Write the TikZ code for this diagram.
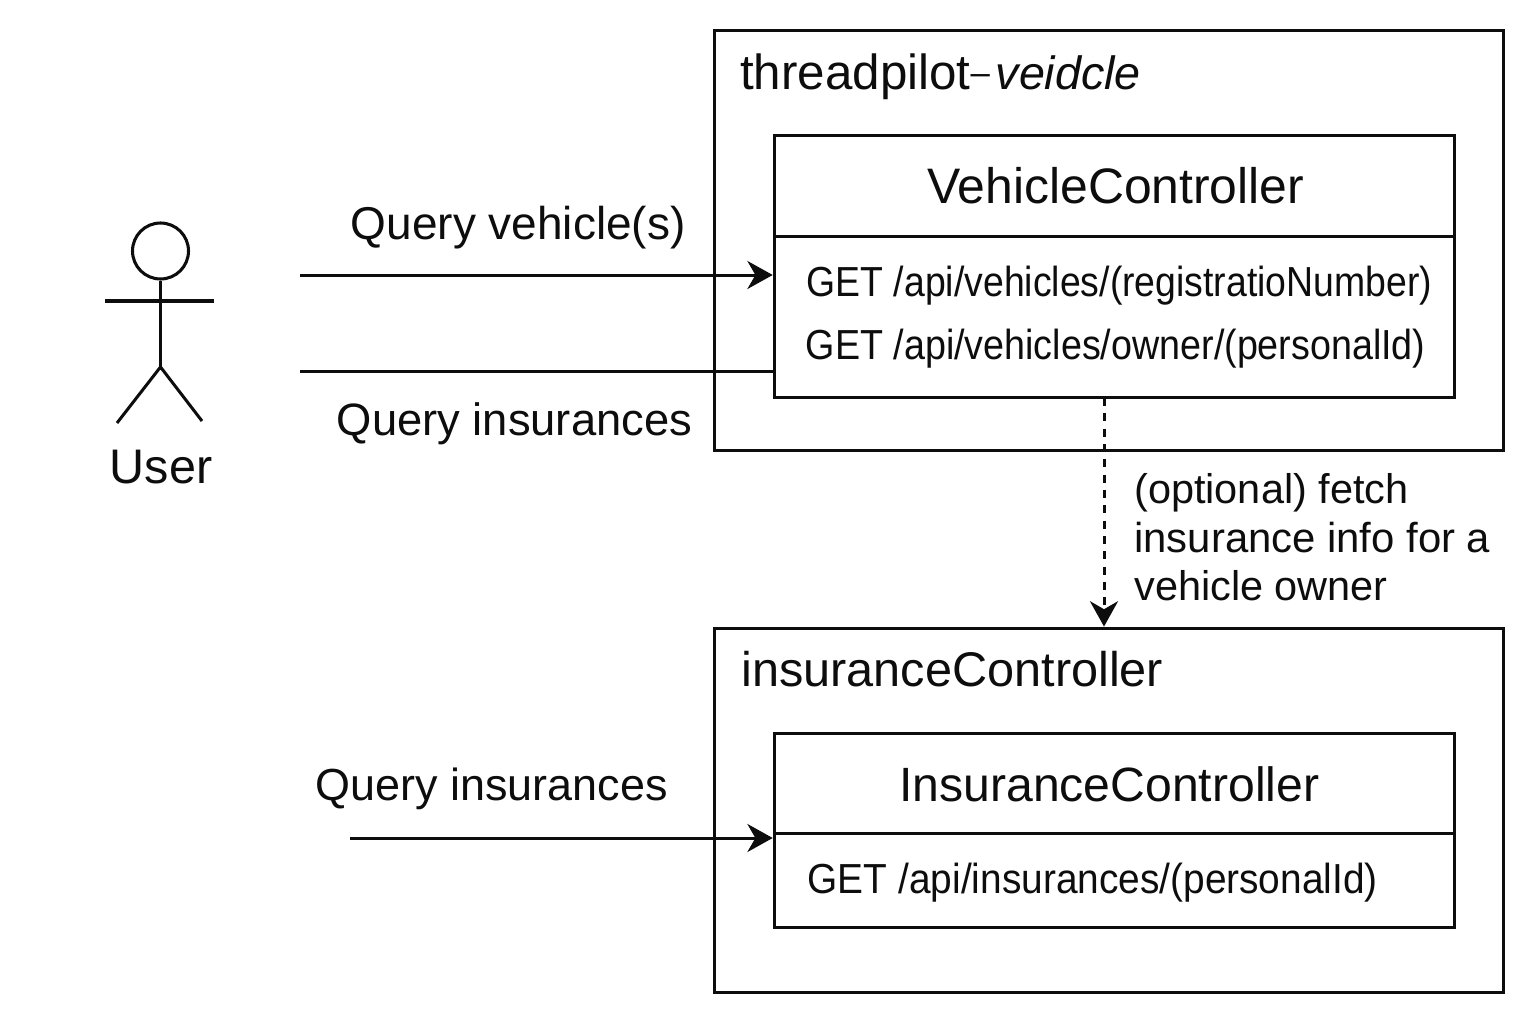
\documentclass[tikz,border=0pt]{standalone}
\usepackage{fontspec}
\setmainfont{Liberation Sans}
\newfontfamily\narrowa{Liberation Sans}[FakeStretch=0.89]
\newfontfamily\narrowc{Liberation Sans}[FakeStretch=0.897]
\newfontfamily\narrowb{Liberation Sans}[FakeStretch=0.925]
\usetikzlibrary{arrows.meta}
\tikzset{
  ink/.style={draw=black!95, line width=2.4pt},
  boxnode/.style={ink, rectangle, inner sep=0pt, minimum width=#1},
  wire/.style={draw=black!95, line width=2.25pt},
  tip/.style={-{Stealth[length=19pt,width=21pt,inset=6pt]}},
  txt/.style={anchor=base west, inner sep=0pt, text=black!95},
  f36/.style={font=\fontsize{36}{40}\selectfont},
  f34/.style={font=\fontsize{34}{40}\selectfont},
  f31/.style={font=\fontsize{31.1}{36}\selectfont},
}
\begin{document}
\begin{tikzpicture}[x=0.75pt,y=-0.75pt]
\useasboundingbox (0,0) rectangle (1536,1024);
% containers
\node[boxnode=591.75pt, minimum height=314.6pt] (svc) at (1109.3,240.4) {};
\node[boxnode=591.75pt, minimum height=273.5pt] (ins) at (1109.3,810.5) {};
% class boxes
\node[boxnode=510.4pt, minimum height=196.5pt] (vc) at (1114.6,266.2) {};
\node[boxnode=510.4pt, minimum height=146pt] (ic) at (1114.6,830.5) {};
\coordinate (vcdiv) at (774,236);
\coordinate (icdiv) at (774,833);
\draw[wire] (vcdiv) -- (vcdiv -| vc.east);
\draw[wire] (icdiv) -- (icdiv -| ic.east);
% titles
\node[txt] (svct) at (740,90) {\fontsize{37}{40}\selectfont threadpilot\fontsize{26}{40}\selectfont\raisebox{3.75pt}{–}\,\fontsize{35}{40}\selectfont\textit{veidcle}};
\node[txt,font=\fontsize{36.5}{40}\selectfont] (inst) at (741,686.5) {insuranceController};
\node[txt,font=\fontsize{37.4}{40}\selectfont] (vct) at (927,203.5) {VehicleController};
\node[txt,font=\fontsize{36.1}{40}\selectfont] (ict) at (899,801.5) {InsuranceController};
% endpoints
\node[txt,font=\narrowa\fontsize{31.5}{36}\selectfont] (e1) at (806.5,296) {GET /api/vehicles/(registratioNumber)};
\node[txt,font=\narrowc\fontsize{31.5}{36}\selectfont] (e2) at (805.5,359.5) {GET /api/vehicles/owner/(personalId)};
\node[txt,font=\narrowb\fontsize{31.5}{36}\selectfont] (e3) at (807.5,893) {GET /api/insurances/(personalId)};
% actor
\node[circle, ink, line width=2.3pt, minimum size=42pt, inner sep=0pt] (head) at (160.5,251) {};
\coordinate (hip) at (160.5,367);
\coordinate (armL) at (105,301);
\coordinate (armR) at (214,301);
\coordinate (legL) at (117,423);
\coordinate (legR) at (202,421);
\draw[wire] (head.south) -- (hip);
\draw[wire, line width=2.5pt] (armL) -- (armR);
\draw[wire] (legL) -- (hip) -- (legR);
\node[txt,anchor=base,font=\fontsize{36.4}{40}\selectfont] (user) at (161,483.5) {User};
% connectors
\coordinate (a1) at (300,275);
\coordinate (a2) at (300,371);
\coordinate (a3) at (350,838);
\coordinate (a4) at (1104,398);
\draw[wire,tip] (a1) -- (a1 -| vc.west);
\draw[wire] (a2) -- (a2 -| vc.west);
\draw[wire,tip] (a3) -- (a3 -| ic.west);
\draw[wire,tip,dash pattern=on 6pt off 5.5pt] (a4) -- (a4 |- ins.north);
% labels
\node[txt,font=\fontsize{34.5}{40}\selectfont] (l1) at (350.5,239) {Query vehicle(s)};
\node[txt,f34] (l2) at (336.5,435) {Query insurances};
\node[txt,font=\fontsize{33.7}{40}\selectfont] (l3) at (315.5,800) {Query insurances};
\node[txt,f31] (o1) at (1134,503.5) {(optional) fetch};
\node[txt,font=\fontsize{31.4}{36}\selectfont] (o2) at (1134,552) {insurance info for a};
\node[txt,f31] (o3) at (1134,600) {vehicle owner};
\end{tikzpicture}
\end{document}
